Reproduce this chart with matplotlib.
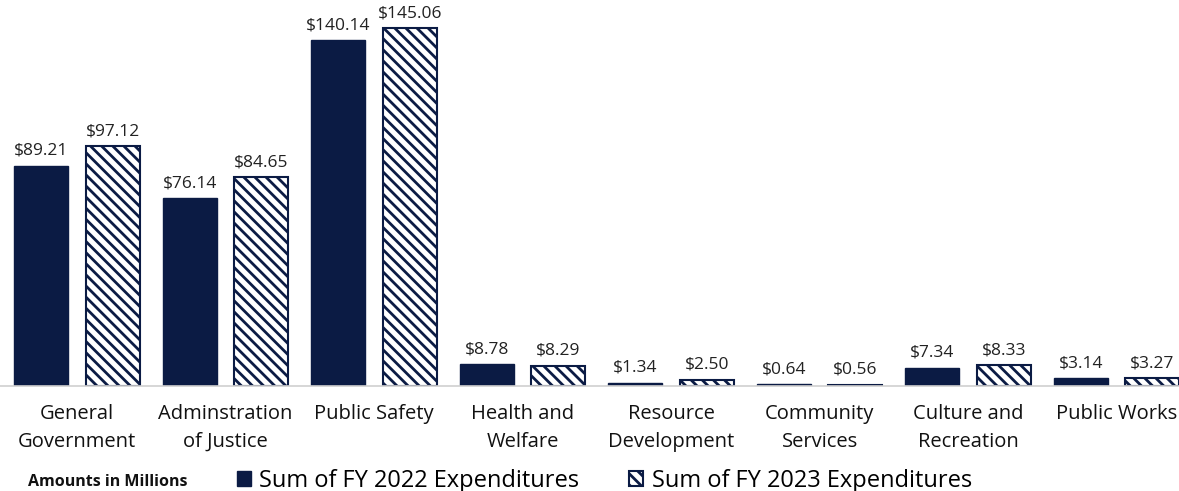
import numpy as np
import matplotlib.pyplot as plt
from matplotlib.patches import Patch

plt.rcParams['font.family'] = ['Open Sans', 'DejaVu Sans']
plt.rcParams['hatch.linewidth'] = 2.0

categories = ['General\nGovernment', 'Adminstration\nof Justice', 'Public Safety',
              'Health and\nWelfare', 'Resource\nDevelopment', 'Community\nServices',
              'Culture and\nRecreation', 'Public Works']
fy2022 = [89.21, 76.14, 140.14, 8.78, 1.34, 0.64, 7.34, 3.14]
fy2023 = [97.12, 84.65, 145.06, 8.29, 2.50, 0.56, 8.33, 3.27]

navy = '#0b1b44'
x = np.arange(len(categories))
w = 0.363
off = 0.24

fig = plt.figure(figsize=(11.79, 4.91), dpi=100)
ax = fig.add_axes([0, 0.2138, 1, 0.786])

b1 = ax.bar(x - off, fy2022, w, color=navy, edgecolor=navy, linewidth=1)
b2 = ax.bar(x + off, fy2023, w, color='white', edgecolor=navy, hatch='\\\\\\', linewidth=1.5)

# value labels above each bar
for bars, vals in ((b1, fy2022), (b2, fy2023)):
    for b, v in zip(bars, vals):
        ax.annotate(f'${v:.2f}', (b.get_x() + b.get_width() / 2, v),
                    xytext=(0, 5), textcoords='offset points',
                    ha='center', va='bottom', fontsize=12.5, color='#222222')

ax.set_xlim(-0.518, 7.42)
ax.set_ylim(0, 156.4)
ax.set_yticks([])
ax.set_xticks(x)
ax.set_xticklabels(categories, fontsize=14.5, color='#111111', linespacing=1.5)
ax.tick_params(axis='x', length=0, pad=13)
for s in ['top', 'right', 'left']:
    ax.spines[s].set_visible(False)
ax.spines['bottom'].set_color('#d0d0d0')
ax.spines['bottom'].set_linewidth(1.2)

fig.text(0.024, 0.01, 'Amounts in Millions', fontsize=11.5, fontweight='bold', color='#111111')
handles = [Patch(facecolor=navy, edgecolor=navy),
           Patch(facecolor='white', edgecolor=navy, hatch='\\\\\\', linewidth=1.5)]
fig.legend(handles, ['Sum of FY 2022 Expenditures', 'Sum of FY 2023 Expenditures'],
           loc='lower left', bbox_to_anchor=(0.183, -0.048), ncol=2, frameon=False,
           fontsize=17, handlelength=0.6, handleheight=0.6, handletextpad=0.35,
           columnspacing=2.1)

fig.savefig('out.png', dpi=100)
